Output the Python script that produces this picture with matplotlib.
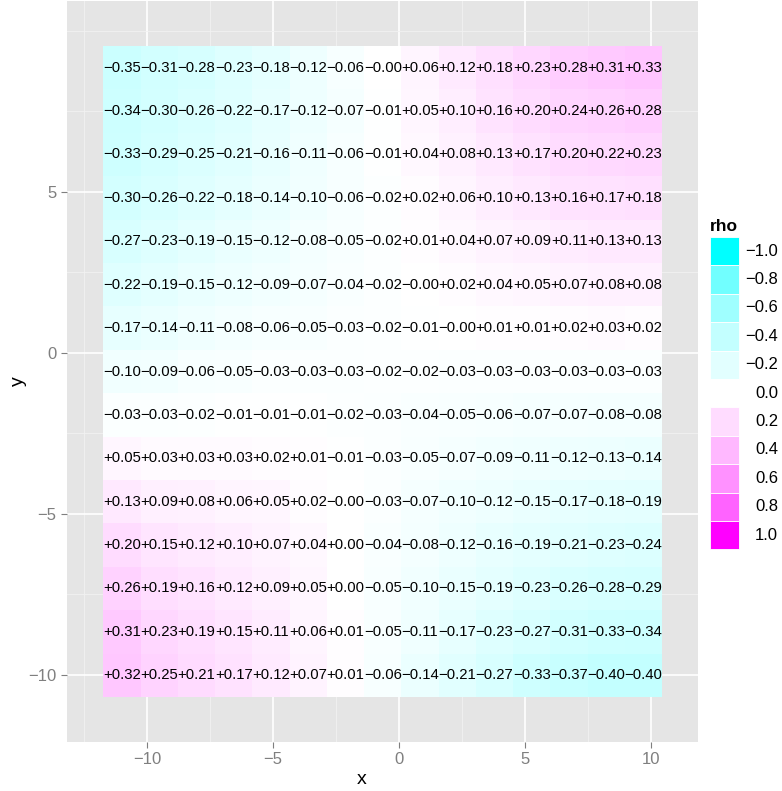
import numpy as np
import matplotlib
matplotlib.use("Agg")
import matplotlib.pyplot as plt
from matplotlib.colors import ListedColormap, Normalize
from matplotlib.patches import Rectangle

plt.rcParams["font.family"] = ["Liberation Sans", "DejaVu Sans"]

# tile centres (x left to right, y top to bottom)
X_CENTERS = [-11.0, -9.52, -8.04, -6.56, -5.08, -3.6, -2.12, -0.64,
             0.84, 2.32, 3.8, 5.28, 6.76, 8.24, 9.72]
Y_CENTERS = [8.85, 7.50, 6.16, 4.81, 3.46, 2.12, 0.77, -0.58,
             -1.93, -3.27, -4.62, -5.96, -7.31, -8.66, -10.01]

# rho per tile, one row per y centre (top row first)
RHO = [
    [-0.35, -0.31, -0.28, -0.23, -0.18, -0.12, -0.06, -0.00, 0.06, 0.12, 0.18, 0.23, 0.28, 0.31, 0.33],
    [-0.34, -0.30, -0.26, -0.22, -0.17, -0.12, -0.07, -0.01, 0.05, 0.10, 0.16, 0.20, 0.24, 0.26, 0.28],
    [-0.33, -0.29, -0.25, -0.21, -0.16, -0.11, -0.06, -0.01, 0.04, 0.08, 0.13, 0.17, 0.20, 0.22, 0.23],
    [-0.30, -0.26, -0.22, -0.18, -0.14, -0.10, -0.06, -0.02, 0.02, 0.06, 0.10, 0.13, 0.16, 0.17, 0.18],
    [-0.27, -0.23, -0.19, -0.15, -0.12, -0.08, -0.05, -0.02, 0.01, 0.04, 0.07, 0.09, 0.11, 0.13, 0.13],
    [-0.22, -0.19, -0.15, -0.12, -0.09, -0.07, -0.04, -0.02, -0.00, 0.02, 0.04, 0.05, 0.07, 0.08, 0.08],
    [-0.17, -0.14, -0.11, -0.08, -0.06, -0.05, -0.03, -0.02, -0.01, -0.00, 0.01, 0.01, 0.02, 0.03, 0.02],
    [-0.10, -0.09, -0.06, -0.05, -0.03, -0.03, -0.03, -0.02, -0.02, -0.03, -0.03, -0.03, -0.03, -0.03, -0.03],
    [-0.03, -0.03, -0.02, -0.01, -0.01, -0.01, -0.02, -0.03, -0.04, -0.05, -0.06, -0.07, -0.07, -0.08, -0.08],
    [0.05, 0.03, 0.03, 0.03, 0.02, 0.01, -0.01, -0.03, -0.05, -0.07, -0.09, -0.11, -0.12, -0.13, -0.14],
    [0.13, 0.09, 0.08, 0.06, 0.05, 0.02, -0.00, -0.03, -0.07, -0.10, -0.12, -0.15, -0.17, -0.18, -0.19],
    [0.20, 0.15, 0.12, 0.10, 0.07, 0.04, 0.00, -0.04, -0.08, -0.12, -0.16, -0.19, -0.21, -0.23, -0.24],
    [0.26, 0.19, 0.16, 0.12, 0.09, 0.05, 0.00, -0.05, -0.10, -0.15, -0.19, -0.23, -0.26, -0.28, -0.29],
    [0.31, 0.23, 0.19, 0.15, 0.11, 0.06, 0.01, -0.05, -0.11, -0.17, -0.23, -0.27, -0.31, -0.33, -0.34],
    [0.32, 0.25, 0.21, 0.17, 0.12, 0.07, 0.01, -0.06, -0.14, -0.21, -0.27, -0.33, -0.37, -0.40, -0.40],
]

LEGEND_BREAKS = [-1.0, -0.8, -0.6, -0.4, -0.2, 0.0, 0.2, 0.4, 0.6, 0.8, 1.0]

LOW, MID, HIGH = "#00FFFF", "#FFFFFF", "#FF00FF"
WHITE_D65 = np.array([0.95047, 1.0, 1.08883])
M_RGB2XYZ = np.array([[0.4124, 0.3576, 0.1805],
                      [0.2126, 0.7152, 0.0722],
                      [0.0193, 0.1192, 0.9505]])


def hex_to_lab(h):
    rgb = np.array([int(h[i:i + 2], 16) / 255 for i in (1, 3, 5)])
    lin = np.where(rgb <= 0.04045, rgb / 12.92, ((rgb + 0.055) / 1.055) ** 2.4)
    xyz = M_RGB2XYZ @ lin / WHITE_D65
    f = np.where(xyz > 0.008856, np.cbrt(xyz), 7.787 * xyz + 16 / 116)
    return np.array([116 * f[1] - 16, 500 * (f[0] - f[1]), 200 * (f[1] - f[2])])


def lab_to_rgb(lab):
    fy = (lab[0] + 16) / 116
    f = np.array([fy + lab[1] / 500, fy, fy - lab[2] / 200])
    xyz = np.where(f ** 3 > 0.008856, f ** 3, (f - 16 / 116) / 7.787) * WHITE_D65
    lin = np.linalg.solve(M_RGB2XYZ, xyz)
    lin = np.clip(lin, 0, 1)
    rgb = np.where(lin <= 0.0031308, 12.92 * lin, 1.055 * lin ** (1 / 2.4) - 0.055)
    return np.clip(rgb, 0, 1)


def rho_colour(v):
    # diverging gradient interpolated in Lab, like ggplot's gradient2
    end = hex_to_lab(LOW) if v < 0 else hex_to_lab(HIGH)
    t = min(abs(v), 1.0)
    return lab_to_rgb(hex_to_lab(MID) * (1 - t) + end * t)


cmap = ListedColormap([rho_colour(v) for v in np.linspace(-1, 1, 401)])
norm = Normalize(vmin=-1, vmax=1)


def edges(centers):
    c = np.asarray(centers)
    mids = (c[:-1] + c[1:]) / 2
    return np.concatenate([[c[0] - (mids[0] - c[0])], mids, [c[-1] + (c[-1] - mids[-1])]])


W, H = 782, 791
fig = plt.figure(figsize=(W / 100, H / 100), dpi=100)
ax = fig.add_axes([67 / W, 1 - 741.7 / H, (698 - 67) / W, (741.7 - 1) / H])
ax.set_facecolor("#E5E5E5")
for s in ax.spines.values():
    s.set_visible(False)

ax.set_xlim(-13.18, 11.88)
ax.set_ylim(-12.07, 10.92)
ax.set_xticks([-10, -5, 0, 5, 10])
ax.set_yticks([-10, -5, 0, 5])
ax.set_xticks([-12.5, -7.5, -2.5, 2.5, 7.5], minor=True)
ax.set_yticks([-7.5, -2.5, 2.5, 7.5, 10], minor=True)
ax.grid(which="major", color="white", linewidth=1.2)
ax.grid(which="minor", color="#F2F2F2", linewidth=0.6)
ax.set_axisbelow(True)
ax.tick_params(which="major", length=4.5, width=0.8, color="#7F7F7F",
               labelcolor="#7F7F7F", labelsize=12, pad=3)
ax.tick_params(which="minor", length=0)
ax.set_xticklabels([str(t).replace("-", "\u2212") for t in [-10, -5, 0, 5, 10]])
ax.set_yticklabels([str(t).replace("-", "\u2212") for t in [-10, -5, 0, 5]])

rho = np.array(RHO)
ax.pcolormesh(edges(X_CENTERS), edges(Y_CENTERS), rho, cmap=cmap, norm=norm,
              shading="flat", antialiased=False, linewidth=0, zorder=2)

for j, yc in enumerate(Y_CENTERS):
    for i, xc in enumerate(X_CENTERS):
        label = f"{RHO[j][i]:+.2f}".replace("-", "\u2212")
        ax.text(xc, yc, label, ha="center", va="center", fontsize=10.7,
                color="black", zorder=3)

fig.text(362 / W, 1 - 779 / H, "x", ha="center", va="center", fontsize=14)
fig.text(18 / W, 1 - 381 / H, "y", ha="center", va="center", fontsize=14,
         rotation=90)

# legend
fig.text(710 / W, 1 - 231 / H, "rho", ha="left", va="baseline", fontsize=12.5,
         fontweight="bold")
key_top, key_h, key_w = 237, 28.4, 29
for k, b in enumerate(LEGEND_BREAKS):
    top = key_top + k * key_h
    fig.patches.append(Rectangle((710 / W, 1 - (top + key_h) / H), key_w / W, key_h / H,
                                 transform=fig.transFigure, facecolor=cmap(norm(b)),
                                 edgecolor="white", linewidth=0.6))
    fig.text(778 / W, 1 - (top + key_h / 2) / H, f"{b:.1f}".replace("-", "\u2212"),
             ha="right", va="center", fontsize=12)

fig.savefig("out.png", dpi=100)
